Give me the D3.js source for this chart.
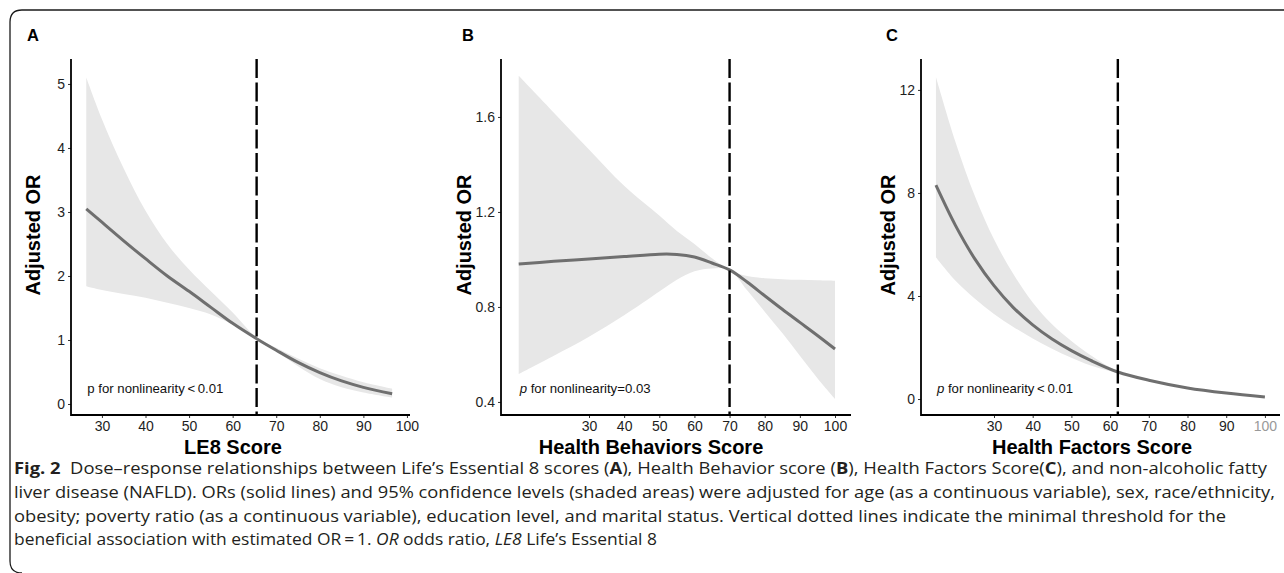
<!DOCTYPE html>
<html>
<head>
<meta charset="UTF-8">
<title>Fig. 2 dose-response</title>
<script src="https://d3js.org/d3.v7.min.js"></script>
<style>
  * { margin: 0; padding: 0; }
  body { background: #fff; }
  svg { display: block; }
  .tick text { font-family: "Liberation Sans", Arial, sans-serif; }
</style>
</head>
<body>
<svg id="main" width="1284" height="573"></svg>
<script>
// ---- data ----
// panel A: LE8 score
const xA  = [26.4, 30, 35, 40, 45, 50, 55, 60, 65.5, 70, 75, 80, 85, 90, 96.6];
const fitA = [3.05, 2.84, 2.55, 2.27, 2.0, 1.76, 1.51, 1.26, 1.02, 0.84, 0.65, 0.49, 0.36, 0.26, 0.16];
const loA  = [1.84, 1.78, 1.72, 1.66, 1.58, 1.5, 1.4, 1.24, 1.0, 0.82, 0.59, 0.39, 0.26, 0.18, 0.1];
const hiA  = [5.1, 4.45, 3.68, 3.02, 2.5, 2.1, 1.76, 1.43, 1.04, 0.88, 0.71, 0.56, 0.44, 0.34, 0.24];

// panel B: health behaviors score
const xB  = [10, 20, 30, 40, 50, 55, 60, 65, 70, 75, 80, 85, 90, 95, 100];
const fitB = [0.981, 0.992, 1.002, 1.012, 1.022, 1.021, 1.01, 0.985, 0.956, 0.905, 0.847, 0.79, 0.735, 0.68, 0.623];
const loB  = [0.518, 0.595, 0.675, 0.765, 0.865, 0.915, 0.95, 0.962, 0.956, 0.87, 0.78, 0.69, 0.595, 0.5, 0.413];
const hiB  = [1.773, 1.618, 1.463, 1.31, 1.185, 1.12, 1.065, 1.005, 0.956, 0.93, 0.921, 0.917, 0.914, 0.912, 0.91];

// panel C: health factors score
const xC  = [15, 20, 25, 30, 35, 40, 45, 50, 55, 62, 70, 80, 90, 100];
const fitC = [8.3, 6.75, 5.45, 4.4, 3.55, 2.88, 2.33, 1.88, 1.5, 1.05, 0.73, 0.43, 0.23, 0.08];
const loC  = [5.5, 4.6, 3.9, 3.3, 2.8, 2.35, 1.95, 1.6, 1.3, 1.0, 0.7, 0.4, 0.2, 0.06];
const hiC  = [12.5, 10.0, 7.9, 6.2, 4.85, 3.75, 2.9, 2.25, 1.7, 1.08, 0.76, 0.45, 0.25, 0.1];

const xTicks = [30, 40, 50, 60, 70, 80, 90, 100];
const yTicksA = [0, 1, 2, 3, 4, 5];
const yTicksB = [0.4, 0.8, 1.2, 1.6];
const yTicksC = [0, 4, 8, 12];

const refLines = [65.5, 70, 62];
const panelTags = ["A", "B", "C"];
const xTitles = ["LE8 Score", "Health Behaviors Score", "Health Factors Score"];
const pNotes = [
  { p: "p", italic: false, rest: " for nonlinearity\u2009<\u20090.01" },
  { p: "p", italic: true,  rest: " for nonlinearity=0.03" },
  { p: "p", italic: true,  rest: " for nonlinearity\u2009<\u20090.01" }
];

// ---- layout ----
const plotTop = 59, plotBottom = 415;
const panels = [
  { x: xA, fit: fitA, lo: loA, hi: hiA, yTicks: yTicksA, fmt: d3.format("d"),
    left: 71, right: 410, xDom: [22.9, 100.7], yDom: [-0.172, 5.39],
    titleX: 40, xTitleX: 233, tagX: 27 },
  { x: xB, fit: fitB, lo: loB, hi: hiB, yTicks: yTicksB, fmt: d3.format(".1f"),
    left: 501, right: 851, xDom: [4.96, 104.55], yDom: [0.345, 1.844],
    titleX: 471, xTitleX: 651, tagX: 462 },
  { x: xC, fit: fitC, lo: loC, hi: hiC, yTicks: yTicksC, fmt: d3.format("d"),
    left: 921, right: 1280, xDom: [11.14, 103.9], yDom: [-0.62, 13.2],
    titleX: 895, xTitleX: 1092, tagX: 886 }
];

const svg = d3.select("#main");

// outer frame (rounded on the left, open to the right)
svg.append("path")
  .attr("d", "M1284,10 H22 Q10,10 10,22 V561 Q10,573 22,573")
  .attr("fill", "none")
  .attr("stroke", "#1a1a1a")
  .attr("stroke-width", 1.3);

panels.forEach((p, i) => {
  const x = d3.scaleLinear().domain(p.xDom).range([p.left, p.right]);
  const y = d3.scaleLinear().domain(p.yDom).range([plotBottom, plotTop]);
  const g = svg.append("g");
  const pts = p.x.map((v, k) => ({ x: v, fit: p.fit[k], lo: p.lo[k], hi: p.hi[k] }));
  const curve = d3.curveCatmullRom.alpha(0.5);

  // confidence band
  g.append("path")
    .datum(pts)
    .attr("fill", "#e7e7e7")
    .attr("d", d3.area().curve(curve)
      .x(d => x(d.x)).y0(d => y(d.lo)).y1(d => y(d.hi)));

  // fitted OR
  g.append("path")
    .datum(pts)
    .attr("fill", "none")
    .attr("stroke", "#6f6f6f")
    .attr("stroke-width", 3)
    .attr("d", d3.line().curve(curve).x(d => x(d.x)).y(d => y(d.fit)));

  // threshold
  g.append("line")
    .attr("x1", x(refLines[i])).attr("x2", x(refLines[i]))
    .attr("y1", plotTop).attr("y2", plotBottom)
    .attr("stroke", "#000")
    .attr("stroke-width", 2.4)
    .attr("stroke-dasharray", "19,4.5");

  // axes
  const xAxis = g.append("g")
    .attr("transform", `translate(0,${plotBottom})`)
    .call(d3.axisBottom(x).tickValues(xTicks).tickSize(3).tickPadding(3));
  const yAxis = g.append("g")
    .attr("transform", `translate(${p.left},0)`)
    .call(d3.axisLeft(y).tickValues(p.yTicks).tickFormat(p.fmt).tickSize(3).tickPadding(3));

  [xAxis, yAxis].forEach(a => {
    a.select(".domain").remove();
    a.selectAll(".tick line").attr("stroke", "#333");
    a.selectAll(".tick text").attr("fill", "#1e1e1e").style("font-size", "14px");
  });
  if (i === 2) xAxis.selectAll(".tick text").filter(d => d === 100).attr("fill", "#999");

  g.append("line")
    .attr("x1", p.left).attr("x2", p.right).attr("y1", plotBottom).attr("y2", plotBottom)
    .attr("stroke", "#000").attr("stroke-width", 1.8);
  g.append("line")
    .attr("x1", p.left).attr("x2", p.left).attr("y1", plotTop).attr("y2", plotBottom + 0.9)
    .attr("stroke", "#000").attr("stroke-width", 1.8);

  // titles
  g.append("text")
    .attr("transform", `translate(${p.titleX},${(plotTop + plotBottom) / 2 - 2}) rotate(-90)`)
    .attr("text-anchor", "middle")
    .style("font-family", "'Liberation Sans', Arial, sans-serif")
    .style("font-weight", "bold").style("font-size", "20px")
    .text("Adjusted OR");
  g.append("text")
    .attr("x", p.xTitleX).attr("y", 454)
    .attr("text-anchor", "middle")
    .style("font-family", "'Liberation Sans', Arial, sans-serif")
    .style("font-weight", "bold").style("font-size", "20px")
    .text(xTitles[i]);
  g.append("text")
    .attr("x", p.tagX).attr("y", 41)
    .style("font-family", "'Liberation Sans', Arial, sans-serif")
    .style("font-weight", "bold").style("font-size", "16.5px")
    .text(panelTags[i]);

  // nonlinearity note
  const note = g.append("text")
    .attr("x", x(p.x[0]) + 1).attr("y", plotBottom - 22)
    .style("font-family", "'Liberation Sans', Arial, sans-serif")
    .style("font-size", "13.2px").attr("fill", "#111");
  note.append("tspan").style("font-style", pNotes[i].italic ? "italic" : "normal").text(pNotes[i].p);
  note.append("tspan").text(pNotes[i].rest);
});

// ---- caption ----
const capLines = [
  [["Fig. 2", "b"], ["  Dose\u2013response relationships between Life\u2019s Essential 8 scores (", ""], ["A", "b"],
   ["), Health Behavior score (", ""], ["B", "b"], ["), Health Factors Score(", ""], ["C", "b"], ["), and non-alcoholic fatty", ""]],
  [["liver disease (NAFLD). ORs (solid lines) and 95% confidence levels (shaded areas) were adjusted for age (as a continuous variable), sex, race/ethnicity,", ""]],
  [["obesity; poverty ratio (as a continuous variable), education level, and marital status. Vertical dotted lines indicate the minimal threshold for the", ""]],
  [["beneficial association with estimated OR\u2009=\u20091. ", ""], ["OR", "i"], [" odds ratio, ", ""], ["LE8", "i"], [" Life\u2019s Essential 8", ""]]
];
const capWidths = [1253, 1261, 1212, 643];

capLines.forEach((parts, i) => {
  const t = svg.append("text")
    .attr("x", 14).attr("y", 474 + i * 23.8)
    .attr("textLength", capWidths[i])
    .attr("lengthAdjust", "spacingAndGlyphs")
    .attr("fill", "#231f20")
    .style("font-family", "'Open Sans', 'Noto Sans', sans-serif")
    .style("font-size", "16.5px")
    .style("white-space", "pre");
  parts.forEach(([s, st]) => {
    t.append("tspan")
      .style("font-weight", st === "b" ? "bold" : "normal")
      .style("font-style", st === "i" ? "italic" : "normal")
      .text(s);
  });
});
</script>
</body>
</html>
